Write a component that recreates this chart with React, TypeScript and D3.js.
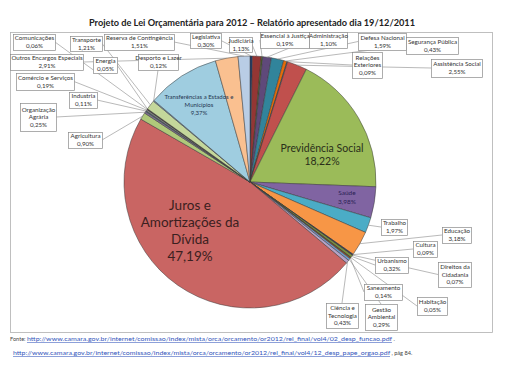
import React, { useEffect, useRef } from 'react';
import * as d3 from 'd3';

// funções orçamentárias, na ordem das fatias (sentido horário a partir das 12h)
const names = [
  'Legislativa', 'Judiciária', 'Essencial à Justiça', 'Administração', 'Defesa Nacional',
  'Segurança Pública', 'Relações\nExteriores', 'Assistência Social', 'Previdência Social', 'Saúde',
  'Trabalho', 'Educação', 'Cultura', 'Direitos da\nCidadania', 'Urbanismo', 'Habitação',
  'Saneamento', 'Gestão\nAmbiental', 'Ciência e\nTecnologia', 'Juros e Amortizações da Dívida',
  'Agricultura', 'Organização\nAgrária', 'Industria', 'Comércio e Serviços', 'Comunicações',
  'Energia', 'Transporte', 'Desporto e Lazer', 'Transferências a Estados e Municípios',
  'Outros Encargos Especiais', 'Reserva de Contingência',
];
const values = [
  0.30, 1.13, 0.19, 1.10, 1.59, 0.43, 0.09, 2.55, 18.22, 3.98,
  1.97, 3.18, 0.09, 0.07, 0.32, 0.05, 0.14, 0.29, 0.43, 47.19,
  0.90, 0.25, 0.11, 0.19, 0.06, 0.05, 1.21, 0.12, 9.37, 2.91, 1.51,
];
const colors = [
  '#1F3C6E', '#943634', '#4F6228', '#5F497A', '#31849B', '#E46C0A', '#376092', '#C0504D', '#9BBB59', '#8064A2',
  '#4BACC6', '#F79646', '#2C4D75', '#772C2A', '#77933C', '#4D3B62', '#B65708', '#729ACA', '#B3A2C7', '#C96563',
  '#AFC97A', '#7F6F8F', '#3F6F7F', '#8C8C8C', '#4A4A4A', '#6B4E2E', '#C4D79B', '#7FA0BF', '#9FCDE0', '#FAC090', '#B9CDE5',
];
const title = 'Projeto de Lei Orçamentária  para 2012 – Relatório apresentado dia 19/12/2011';
const link1 = 'http://www.camara.gov.br/internet/comissao/index/mista/orca/orcamento/or2012/rel_final/vol4/02_desp_funcao.pdf';
const link2 = 'http://www.camara.gov.br/internet/comissao/index/mista/orca/orcamento/or2012/rel_final/vol4/12_desp_pape_orgao.pdf';

// caixas das etiquetas externas [x0, y0, x1, y1]
const boxes: Record<number, [number, number, number, number]> = {
  0: [190, 33, 221, 48],
  1: [229, 37, 252, 52],
  2: [260, 32, 309, 48],
  3: [309, 32, 347, 48],
  4: [358, 33, 406, 50],
  5: [406, 37, 458, 54],
  6: [352, 52, 382, 78],
  7: [431, 59, 482, 77],
  10: [381, 219, 407, 235],
  11: [442, 227, 471, 243],
  12: [413, 241, 437, 257],
  13: [438, 262, 471, 287],
  14: [375, 257, 408, 273],
  15: [417, 297, 447, 315],
  16: [364, 284, 402, 300],
  17: [365, 304, 397, 330],
  18: [326, 303, 358, 328],
  20: [68, 132, 102, 148],
  21: [20, 103, 56, 131],
  22: [69, 92, 97, 108],
  23: [16, 73, 74, 90],
  24: [13, 34, 55, 50],
  25: [93, 57, 117, 73],
  26: [70, 36, 102, 51],
  27: [138, 54, 178, 70],
  29: [10, 54, 83, 70],
  30: [104, 34, 174, 50],
};

const fmt = (v: number) => v.toFixed(2).replace('.', ',') + '%';

export default function App() {
  const svgRef = useRef<SVGSVGElement>(null);

  useEffect(() => {
    if (!svgRef.current) return;
    const svg = d3.select(svgRef.current);
    svg.selectAll('*').remove();

    const width = 512;
    const height = 369;
    const cx = 250;
    const cy = 182;
    const r = 126;
    const font = 'Lato, "Liberation Sans", Arial, sans-serif';

    svg.attr('width', width).attr('height', height).style('font-family', font);
    svg.append('rect').attr('width', width).attr('height', height).attr('fill', '#fff');

    // moldura do gráfico
    svg.append('rect')
      .attr('x', 10.5).attr('y', 32.5).attr('width', 482).attr('height', 300)
      .attr('fill', 'none').attr('stroke', '#b0b0b0').attr('stroke-width', 0.8);

    svg.append('text')
      .attr('x', 252).attr('y', 26)
      .attr('text-anchor', 'middle')
      .style('font-size', '9.2px').style('font-weight', 'bold').attr('fill', '#222')
      .text(title);

    const pie = d3.pie<number>().sort(null).value((d) => d);
    const arcs = pie(values);
    const arc = d3.arc<d3.PieArcDatum<number>>().innerRadius(0).outerRadius(r);

    const g = svg.append('g').attr('transform', `translate(${cx},${cy})`);
    g.selectAll('path')
      .data(arcs)
      .enter().append('path')
      .attr('d', arc)
      .attr('fill', (_, i) => colors[i])
      .attr('stroke', '#3a3a3a')
      .attr('stroke-width', 0.5)
      .attr('stroke-linejoin', 'round');

    // linhas de chamada e caixas
    const lines = svg.append('g');
    const labels = svg.append('g');
    Object.keys(boxes).forEach((k) => {
      const i = +k;
      const [x0, y0, x1, y1] = boxes[i];
      const a = (arcs[i].startAngle + arcs[i].endAngle) / 2;
      const px = cx + r * Math.sin(a);
      const py = cy - r * Math.cos(a);
      const anchors: [number, number][] = [
        [(x0 + x1) / 2, y0], [(x0 + x1) / 2, y1], [x0, (y0 + y1) / 2], [x1, (y0 + y1) / 2],
      ];
      let best = anchors[0];
      let bd = Infinity;
      anchors.forEach((p) => {
        const dd = Math.hypot(p[0] - px, p[1] - py);
        if (dd < bd) { bd = dd; best = p; }
      });
      lines.append('line')
        .attr('x1', best[0]).attr('y1', best[1]).attr('x2', px).attr('y2', py)
        .attr('stroke', '#8a8a8a').attr('stroke-width', 0.6);

      labels.append('rect')
        .attr('x', x0 + 0.5).attr('y', y0 + 0.5).attr('width', x1 - x0).attr('height', y1 - y0)
        .attr('fill', '#fff').attr('stroke', '#8a8a8a').attr('stroke-width', 0.7);
      const rows = [...names[i].split('\n'), fmt(values[i])];
      const step = 7.6;
      const top = (y0 + y1) / 2 - ((rows.length - 1) * step) / 2 + 2.2;
      const t = labels.append('text')
        .attr('text-anchor', 'middle')
        .style('font-size', '6.2px').attr('fill', '#333');
      rows.forEach((row, j) => {
        t.append('tspan').attr('x', (x0 + x1) / 2 + 0.5).attr('y', top + j * step).text(row);
      });
    });

    // etiquetas internas
    const inner = (lines: string[], x: number, y: number, size: number, step: number, color: string) => {
      const t = svg.append('text').attr('text-anchor', 'middle')
        .style('font-size', `${size}px`).attr('fill', color);
      lines.forEach((l, j) => t.append('tspan').attr('x', x).attr('y', y + j * step).text(l));
    };
    inner(['Juros e', 'Amortizações da', 'Dívida', fmt(values[19])], 190, 210, 13.5, 17, '#3b2020');
    inner(['Previdência Social', fmt(values[8])], 322, 152, 10.5, 13, '#2a2f1a');
    inner(['Saúde', fmt(values[9])], 347, 195, 6.5, 8.5, '#2b2356');
    inner(['Transferências a Estados e', 'Municípios', fmt(values[28])], 199, 99, 6, 8, '#1f3550');

    // fonte
    const f1 = svg.append('text').attr('x', 10).attr('y', 341).style('font-size', '5.6px').attr('fill', '#444');
    f1.append('tspan').text('Fonte: ');
    f1.append('tspan').attr('fill', '#3355bb').attr('text-decoration', 'underline')
      .attr('textLength', 365).attr('lengthAdjust', 'spacingAndGlyphs').text(link1);
    f1.append('tspan').text(' .');
    const f2 = svg.append('text').attr('x', 13).attr('y', 355).style('font-size', '5.6px').attr('fill', '#444');
    f2.append('tspan').attr('fill', '#3355bb').attr('text-decoration', 'underline')
      .attr('textLength', 377).attr('lengthAdjust', 'spacingAndGlyphs').text(link2);
    f2.append('tspan').text(' , pág 84.');
  }, []);

  return (
    <div style={{ position: 'absolute', left: 0, top: 0 }}>
      <svg ref={svgRef} style={{ display: 'block' }}></svg>
    </div>
  );
}
